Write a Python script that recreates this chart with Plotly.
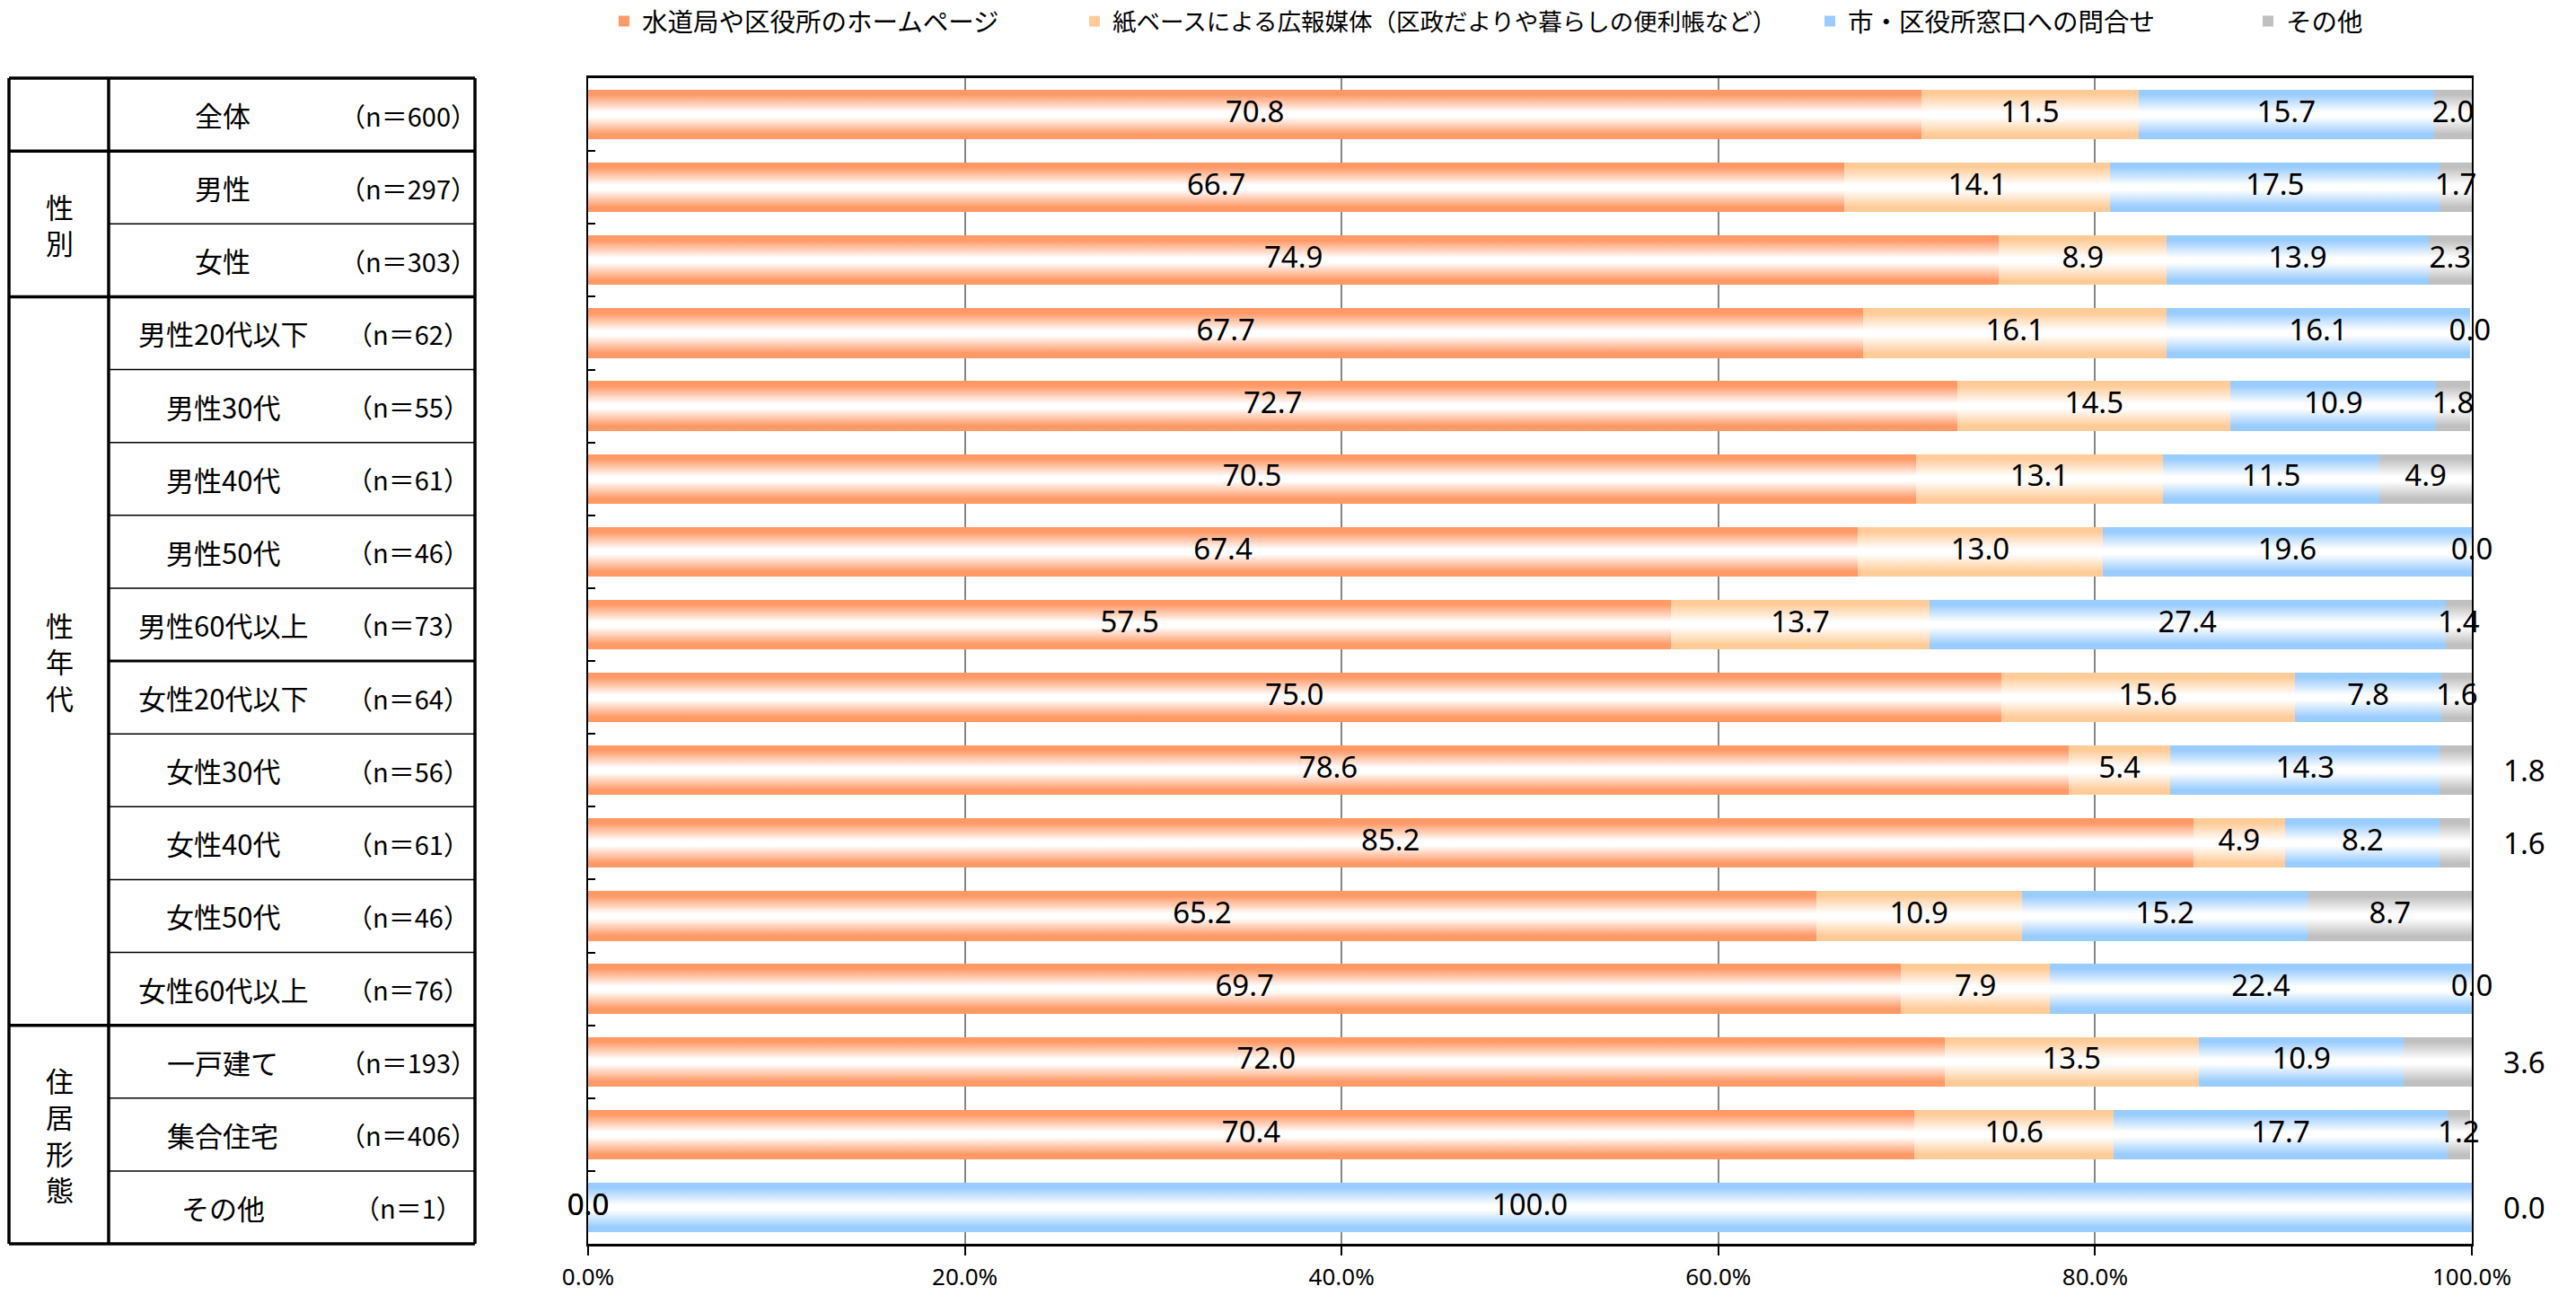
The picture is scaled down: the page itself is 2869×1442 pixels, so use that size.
import plotly.graph_objects as go

# ---- data -------------------------------------------------------------
categories = ["全体", "男性", "女性", "男性20代以下", "男性30代", "男性40代", "男性50代",
              "男性60代以上", "女性20代以下", "女性30代", "女性40代", "女性50代",
              "女性60代以上", "一戸建て", "集合住宅", "その他"]
sample_sizes = [600, 297, 303, 62, 55, 61, 46, 73, 64, 56, 61, 46, 76, 193, 406, 1]

# (group label, first row, last row)
groups = [("", 0, 0), ("性別", 1, 2), ("性年代", 3, 12), ("住居形態", 13, 15)]

series_names = ["水道局や区役所のホームページ",
                "紙ベースによる広報媒体（区政だよりや暮らしの便利帳など）",
                "市・区役所窓口への問合せ",
                "その他"]
homepage = [70.8, 66.7, 74.9, 67.7, 72.7, 70.5, 67.4, 57.5, 75.0, 78.6, 85.2, 65.2, 69.7, 72.0, 70.4, 0.0]
print_media = [11.5, 14.1, 8.9, 16.1, 14.5, 13.1, 13.0, 13.7, 15.6, 5.4, 4.9, 10.9, 7.9, 13.5, 10.6, 0.0]
counter = [15.7, 17.5, 13.9, 16.1, 10.9, 11.5, 19.6, 27.4, 7.8, 14.3, 8.2, 15.2, 22.4, 10.9, 17.7, 100.0]
other = [2.0, 1.7, 2.3, 0.0, 1.8, 4.9, 0.0, 1.4, 1.6, 1.8, 1.6, 8.7, 0.0, 3.6, 1.2, 0.0]
series_values = [homepage, print_media, counter, other]

# rows whose "その他" value label sits to the right of the bar
other_label_outside = [9, 10, 13, 15]

x_ticks = [0, 20, 40, 60, 80, 100]
x_tick_labels = ["0.0%", "20.0%", "40.0%", "60.0%", "80.0%", "100.0%"]

# ---- styling ----------------------------------------------------------
series_colors = ["#FF9966", "#FFCC99", "#99CCFF", "#C0C0C0"]
JP_FONT = "Noto Sans CJK JP, Noto Sans, sans-serif"
NUM_FONT = "Noto Sans, Noto Sans CJK JP, sans-serif"
LABEL_SIZE = 33
BAR_WIDTH = 0.68
X_MAX = 100
OUTSIDE_X = 102.8  # in axis units, right of the 100% line

W, H = 2869, 1442
M_L, M_R, M_T, M_B = 655, 116, 87, 57
PLOT_W = W - M_L - M_R
n_rows = len(categories)
rows = list(range(n_rows))


def px_x(px):
    """Horizontal pixel position -> paper coordinate."""
    return (px - M_L) / PLOT_W


def row_edge(b):
    """Row boundary index -> paper y (first row at top)."""
    return 1 - b / n_rows


fig = go.Figure()

# stacked bars
legend_ids = ["legend", "legend2", "legend3", "legend4"]
for name, vals, color, lg in zip(series_names, series_values, series_colors, legend_ids):
    fig.add_trace(go.Bar(
        y=rows, x=vals, name=name, orientation="h", width=BAR_WIDTH,
        marker=dict(color=color, line=dict(width=0)),
        legend=lg, hoverinfo="x+name",
    ))

# glossy white band across each bar
half = BAR_WIDTH / 2
shine = [[0.0, "rgba(255,255,255,0)"], [0.1, "rgba(255,255,255,0)"],
         [0.45, "rgba(255,255,255,1)"], [0.55, "rgba(255,255,255,1)"],
         [0.9, "rgba(255,255,255,0)"], [1.0, "rgba(255,255,255,0)"]]
for r in rows:
    total = sum(vals[r] for vals in series_values)
    fig.add_trace(go.Scatter(
        x=[0, total, total, 0, 0],
        y=[r - half, r - half, r + half, r + half, r - half],
        fill="toself", mode="none",
        fillgradient=dict(type="vertical", colorscale=shine),
        showlegend=False, hoverinfo="skip",
    ))

# value labels: centred on each segment, a few placed right of the bar
annotations = []
lab_x, lab_y, lab_t = [], [], []
for r in rows:
    cum = 0.0
    for s, vals in enumerate(series_values):
        v = vals[r]
        if s == 3 and r in other_label_outside:
            annotations.append(dict(xref="paper", yref="y", x=OUTSIDE_X / X_MAX, y=r,
                                    text=f"{v:.1f}", showarrow=False,
                                    xanchor="center", yanchor="middle",
                                    font=dict(size=LABEL_SIZE, family=NUM_FONT, color="black")))
        else:
            lab_x.append(cum + v / 2)
            lab_y.append(r)
            lab_t.append(f"{v:.1f}")
        cum += v
fig.add_trace(go.Scatter(
    x=lab_x, y=lab_y, text=lab_t, mode="text",
    textfont=dict(size=LABEL_SIZE, color="black", family=NUM_FONT),
    textposition="middle center", cliponaxis=False,
    showlegend=False, hoverinfo="skip",
))

# ---- left-hand table --------------------------------------------------
TBL_L, TBL_C, TBL_R = 10, 121, 529
shapes = []


def hline(b, x0, x1, width):
    shapes.append(dict(type="line", xref="paper", yref="paper",
                       x0=px_x(x0), x1=px_x(x1), y0=row_edge(b), y1=row_edge(b),
                       line=dict(color="black", width=width)))


group_edges = sorted({g[1] for g in groups} | {n_rows})
for b in range(n_rows + 1):
    if b in group_edges:
        hline(b, TBL_L, TBL_R, 3.5)
    elif b == 8:
        hline(b, TBL_C, TBL_R, 3)
    else:
        hline(b, TBL_C, TBL_R, 1.5)
for xp in (TBL_L, TBL_C, TBL_R):
    shapes.append(dict(type="line", xref="paper", yref="paper",
                       x0=px_x(xp), x1=px_x(xp), y0=0, y1=1,
                       line=dict(color="black", width=3.5)))

for r, (cat, n) in enumerate(zip(categories, sample_sizes)):
    yc = row_edge(r + 0.5)
    annotations.append(dict(xref="paper", yref="paper", x=px_x(248), y=yc,
                            text=cat, showarrow=False, xanchor="center", yanchor="middle",
                            font=dict(size=31, family=JP_FONT, color="black")))
    annotations.append(dict(xref="paper", yref="paper", x=px_x(454), y=yc,
                            text=f"（n＝{n}）", showarrow=False, xanchor="center", yanchor="middle",
                            font=dict(size=29, family=JP_FONT, color="black")))
for label, r0, r1 in groups:
    if not label:
        continue
    annotations.append(dict(xref="paper", yref="paper", x=px_x(66),
                            y=row_edge((r0 + r1 + 1) / 2),
                            text="<br>".join(label), showarrow=False,
                            xanchor="center", yanchor="middle",
                            font=dict(size=31, family=JP_FONT, color="black")))

# ---- layout -----------------------------------------------------------
legend_x_px = [675, 1199, 2018, 2506]
legend_font_sizes = [28.5, 26.5, 28.5, 28.5]
leg_y = 1 + (M_T - 24) / (H - M_T - M_B)
legend_cfg = {}
for lg, xp, fs in zip(legend_ids, legend_x_px, legend_font_sizes):
    legend_cfg[lg] = dict(x=px_x(xp), y=leg_y, xanchor="left", yanchor="middle",
                          orientation="h", bgcolor="rgba(0,0,0,0)",
                          font=dict(size=fs, family=JP_FONT, color="black"))

fig.update_layout(
    width=W, height=H, autosize=False,
    margin=dict(l=M_L, r=M_R, t=M_T, b=M_B, autoexpand=False),
    barmode="stack",
    plot_bgcolor="white", paper_bgcolor="white",
    font=dict(family=JP_FONT, color="black"),
    shapes=shapes, annotations=annotations,
    xaxis=dict(range=[0, X_MAX], tickvals=x_ticks, ticktext=x_tick_labels,
               showgrid=True, gridcolor="#868686", gridwidth=1.5,
               showline=True, linecolor="black", linewidth=3, mirror=True,
               ticks="outside", ticklen=10, tickwidth=2, tickcolor="black",
               tickfont=dict(size=26, family=NUM_FONT, color="black"),
               ticklabelstandoff=2, zeroline=False, fixedrange=True,
               automargin=False),
    yaxis=dict(range=[n_rows - 0.5, -0.5], tickvals=[b + 0.5 for b in rows[:-1]],
               showticklabels=False, ticks="inside", ticklen=8, tickwidth=2,
               tickcolor="black", showgrid=False, zeroline=False,
               showline=True, linecolor="black", linewidth=2, mirror=True,
               fixedrange=True, automargin=False),
    **legend_cfg,
)

fig.write_html("out.html")
